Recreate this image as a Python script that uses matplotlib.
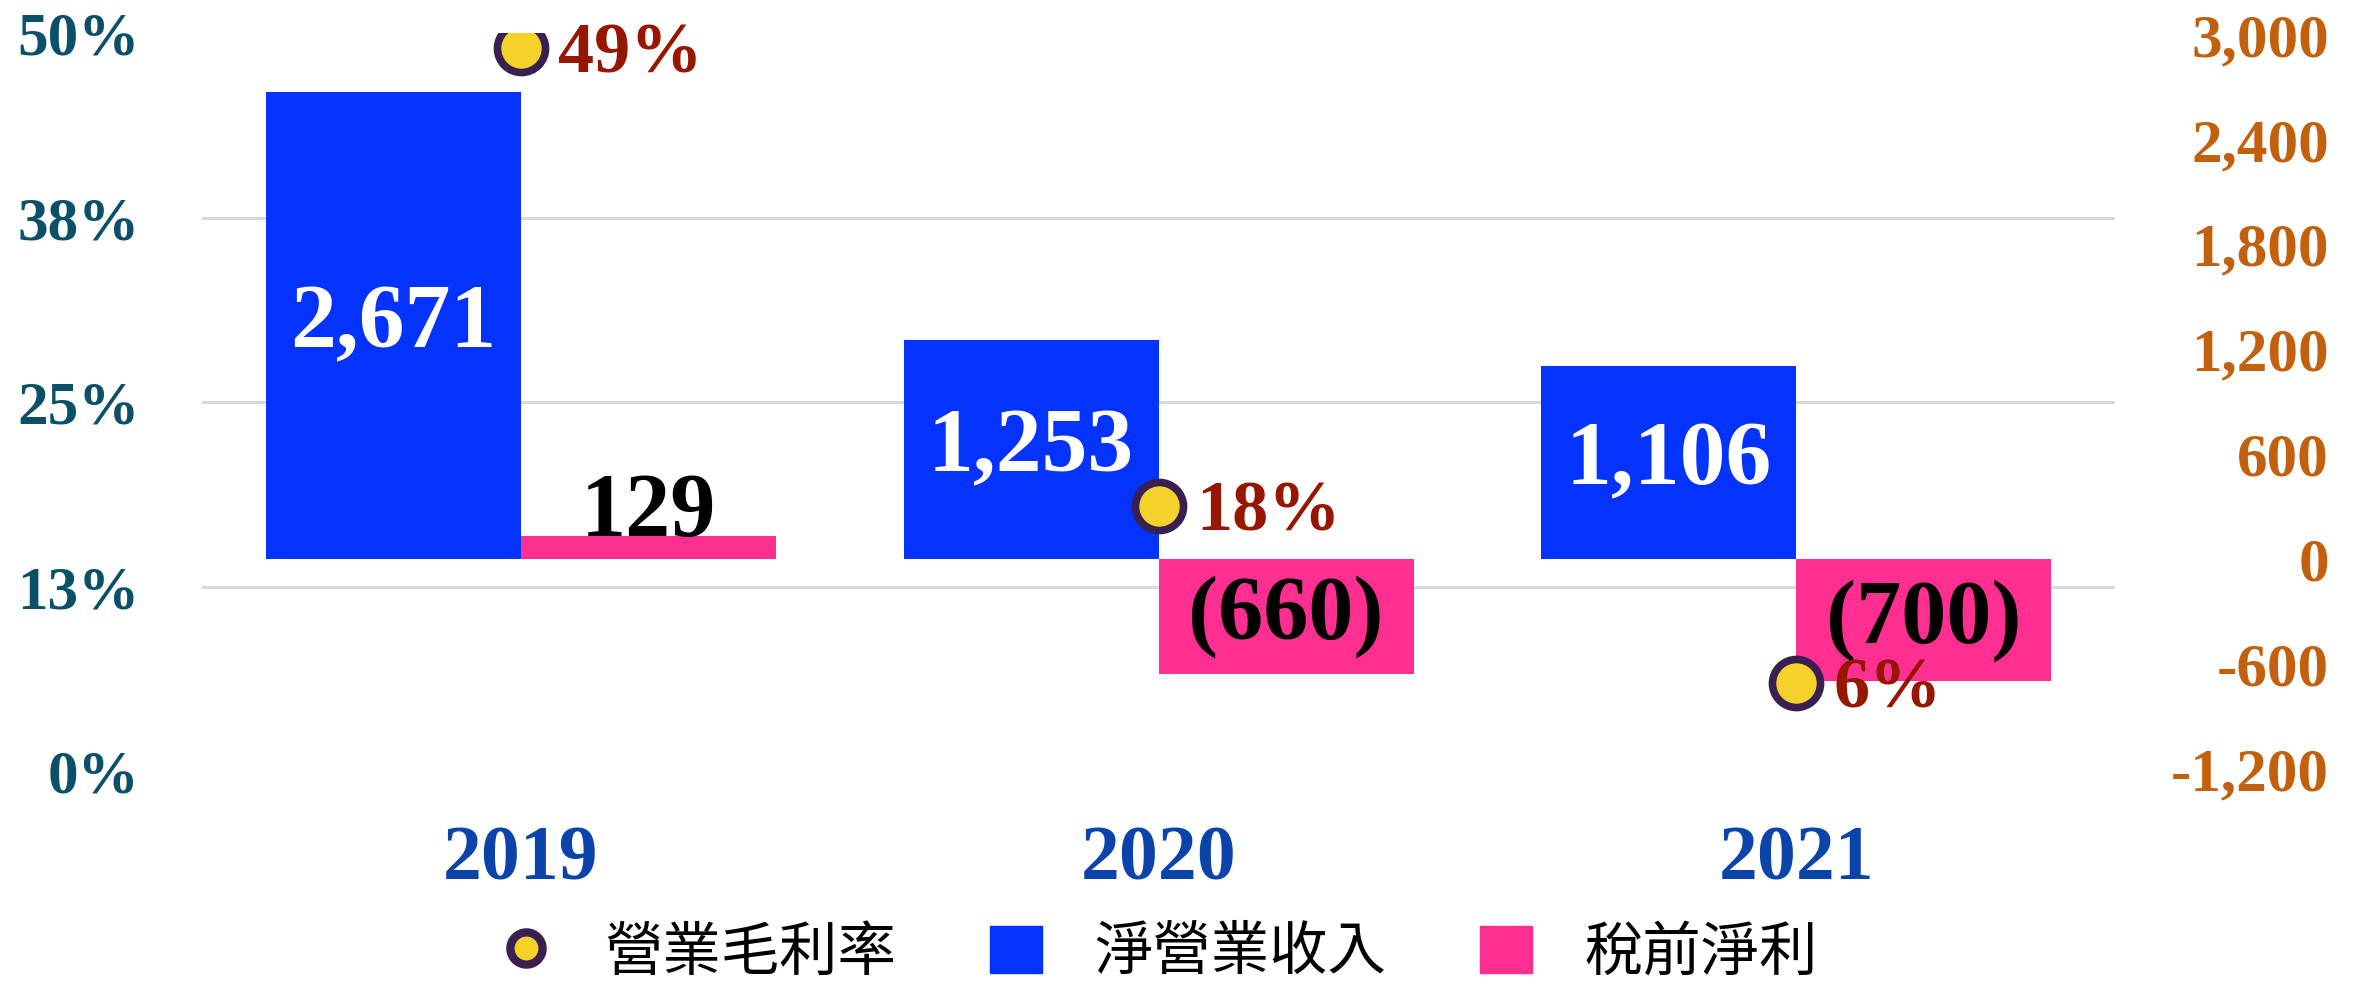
import numpy as np
import matplotlib
matplotlib.use("Agg")
import matplotlib.pyplot as plt
from matplotlib.lines import Line2D
from matplotlib.patches import Patch
from matplotlib.font_manager import FontProperties

plt.rcParams['font.family'] = ['Liberation Serif', 'Noto Sans CJK TC', 'DejaVu Sans']
plt.rcParams['font.weight'] = 'bold'

# data
years = ["2019", "2020", "2021"]
revenue = [2671, 1253, 1106]        # 淨營業收入
pretax = [129, -660, -700]          # 稅前淨利
margin = [49, 18, 6]                # 營業毛利率 (%)

pct_ticks = [0, 12.5, 25, 37.5, 50]
pct_labels = ["0%", "13%", "25%", "38%", "50%"]
amt_ticks = list(range(-1200, 3001, 600))

c_blue = '#0433FF'
c_pink = '#FF2F92'
c_face = '#F5D22A'
c_edge = '#3A2050'
c_left = '#0A5068'
c_right = '#C2600E'
c_year = '#0A44AA'
c_pct = '#961600'


def fmt(v):
    if v < 0:
        return "({:,})".format(-v)
    return "{:,}".format(v)


fig = plt.figure(figsize=(23.58, 9.85), dpi=100)
ax = fig.add_axes([0.0857, 0.2168, 0.8113, 0.7492])
x = np.arange(len(years))

# percent axis (left) with the grid
ax.set_xlim(-0.5, 2.5)
ax.set_ylim(0, 50)
ax.set_yticks(pct_ticks)
ax.set_yticklabels(pct_labels)
ax.yaxis.grid(True, color='#D9D9D9', lw=2.2)
gl = ax.get_ygridlines()
gl[0].set_visible(False)
gl[-1].set_visible(False)
ax.set_axisbelow(True)
ax.tick_params(axis='y', length=0, pad=45, labelsize=44, labelcolor=c_left)
ax.set_xticks(x)
ax.set_xticklabels(years)
ax.tick_params(axis='x', length=0, pad=39, labelsize=56, labelcolor=c_year)
for s in ax.spines.values():
    s.set_visible(False)

# amount axis (right) with the bars
ax2 = ax.twinx()
ax2.set_ylim(-1215, 3006)
ax2.set_yticks(amt_ticks)
ax2.set_yticklabels([fmt(t) if t >= 0 else "-{:,}".format(-t) for t in amt_ticks])
ax2.tick_params(axis='y', length=0, pad=154, labelsize=44, labelcolor=c_right)
for lab in ax2.get_yticklabels():
    lab.set_ha('right')
for s in ax2.spines.values():
    s.set_visible(False)

ax2.bar(x - 0.2, revenue, 0.4, color=c_blue)
ax2.bar(x + 0.2, pretax, 0.4, color=c_pink)

for i, v in enumerate(revenue):
    ax2.text(i - 0.2, v / 2, fmt(v), ha='center', va='center', color='white',
             fontsize=66, fontweight='bold')
for i, v in enumerate(pretax):
    if v > 0:
        ax2.text(i + 0.2, v, fmt(v), ha='center', va='baseline', color='black',
                 fontsize=65, fontweight='bold')
    else:
        ax2.text(i + 0.2, v / 2, fmt(v), ha='center', va='center', color='black',
                 fontsize=65, fontweight='bold')

# margin markers on top
ax3 = ax.twinx()
ax3.set_ylim(0, 50)
ax3.set_yticks([])
for s in ax3.spines.values():
    s.set_visible(False)
ax3.plot(x, margin, linestyle='none', marker='o', markersize=34.6,
         markerfacecolor=c_face, markeredgecolor=c_edge, markeredgewidth=5.5)
for i, m in enumerate(margin):
    ax3.annotate("{}%".format(m), (i, m), xytext=(27, -17.5), textcoords='offset points',
                 ha='left', va='baseline', color=c_pct, fontsize=52, fontweight='bold')

handles = [
    Line2D([], [], linestyle='none', marker='o', markersize=34.6,
           markerfacecolor=c_face, markeredgecolor=c_edge, markeredgewidth=6),
    Patch(color=c_blue),
    Patch(color=c_pink),
]
labels = ["營業毛利率", "淨營業收入", "稅前淨利"]
fig.legend(handles, labels, loc='center', bbox_to_anchor=(0.4915, 0.0325), ncol=3,
           frameon=False,
           prop=FontProperties(family='Noto Sans CJK TC', size=42, weight='normal'),
           handlelength=0.9, handleheight=0.85, handletextpad=0.9,
           columnspacing=1.6, markerscale=0.67)

fig.savefig("out.png", dpi=100)
